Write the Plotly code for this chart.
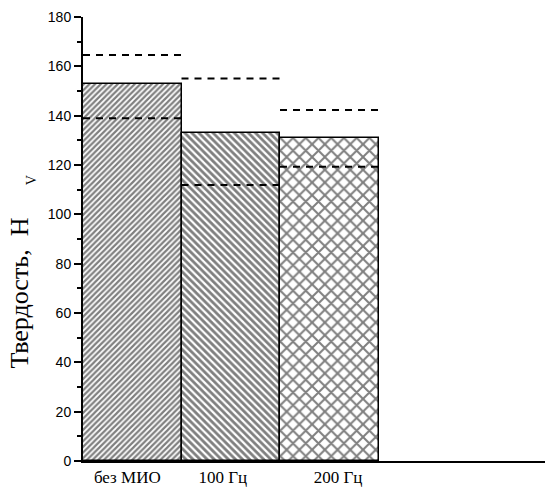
import plotly.graph_objects as go

# Hardness (HV) by treatment mode
categories = ["без МИО", "100 Гц", "200 Гц"]
hardness = [152.8, 133.0, 130.8]
upper_bound = [164.6, 155.1, 142.3]
lower_bound = [139.0, 111.9, 119.3]
patterns = ["/", "\\", "x"]
pattern_size = [4, 5, 9]
pattern_solidity = [0.55, 0.55, 0.4]

# label positions relative to each bar centre
label_shift = [-0.05, -0.08, 0.09]

fig = go.Figure()

for i, (cat, val, pat) in enumerate(zip(categories, hardness, patterns)):
    fig.add_trace(go.Bar(
        x=[i], y=[val], width=1.0, name=cat,
        marker=dict(
            color="white",
            line=dict(color="black", width=1.5),
            pattern=dict(shape=pat, fgcolor="black", bgcolor="white",
                         size=pattern_size[i], solidity=pattern_solidity[i]),
        ),
        showlegend=False,
    ))

# dashed bounds above/below each bar
for i in range(len(categories)):
    for v in (upper_bound[i], lower_bound[i]):
        fig.add_trace(go.Scatter(
            x=[i - 0.5, i + 0.5], y=[v, v], mode="lines",
            line=dict(color="black", width=2, dash="7px,6px"),
            showlegend=False, hoverinfo="skip",
        ))

fig.update_layout(
    width=547, height=488,
    margin=dict(l=83, r=2, t=17, b=27),
    paper_bgcolor="white", plot_bgcolor="white",
    bargap=0,
    xaxis=dict(
        range=[-0.5, -0.5 + 462 / 98.5],
        tickmode="array",
        tickvals=[i + s for i, s in enumerate(label_shift)],
        ticktext=categories,
        ticks="", showgrid=False, zeroline=False,
        showline=True, linecolor="black", linewidth=2,
        tickfont=dict(family="Liberation Serif", size=17, color="black"),
    ),
    yaxis=dict(
        range=[0, 180], dtick=20, tick0=0,
        ticks="outside", ticklen=7, tickwidth=2, tickcolor="black",
        minor=dict(dtick=10, ticks="outside", ticklen=4, tickwidth=2, tickcolor="black"),
        showgrid=False, zeroline=False,
        showline=True, linecolor="black", linewidth=2,
        tickfont=dict(family="Liberation Sans", size=14, color="black"),
    ),
    annotations=[
        dict(text="Твердость,\u00a0\u00a0H", textangle=-90,
             xref="paper", yref="paper", x=-0.138, y=0.378,
             xanchor="center", yanchor="middle", showarrow=False,
             font=dict(family="Liberation Serif", size=26, color="black")),
        dict(text="V", textangle=-90,
             xref="paper", yref="paper", x=-0.110, y=0.633,
             xanchor="center", yanchor="middle", showarrow=False,
             font=dict(family="Liberation Serif", size=14, color="black")),
    ],
)

fig.write_html("out.html")
